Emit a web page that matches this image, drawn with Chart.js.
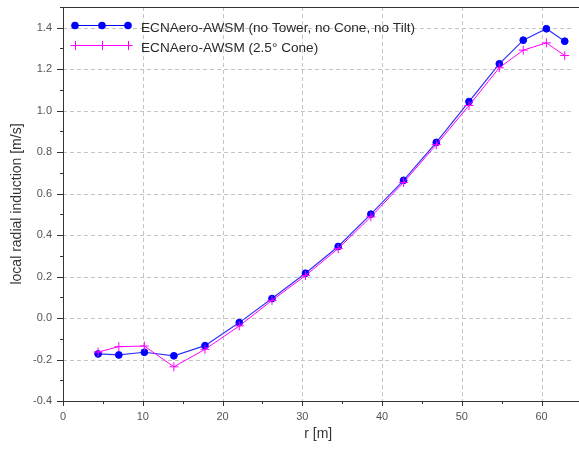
<!DOCTYPE html>
<html>
<head>
<meta charset="utf-8">
<script src="https://cdn.jsdelivr.net/npm/chart.js@4/dist/chart.umd.min.js"></script>
<style>
  html, body { margin: 0; padding: 0; background: #fff; }
  #wrap { width: 579px; height: 449px; position: relative; }
</style>
</head>
<body>
<div id="wrap"><canvas id="induction"></canvas></div>
<script>
// radial stations [m]
const radius = [4.4, 7.0, 10.2, 13.9, 17.8, 22.1, 26.2, 30.4, 34.5, 38.6, 42.7, 46.8, 50.9, 54.7, 57.7, 60.6, 62.9];
// local radial induction [m/s]
const noTower = [-0.173, -0.178, -0.165, -0.182, -0.133, -0.022, 0.094, 0.216, 0.345, 0.501, 0.664, 0.847, 1.044, 1.226, 1.340, 1.395, 1.335];
const cone25 = [-0.164, -0.138, -0.135, -0.235, -0.151, -0.038, 0.085, 0.205, 0.335, 0.488, 0.654, 0.836, 1.025, 1.207, 1.292, 1.327, 1.266];

const seriesNames = ['ECNAero-AWSM (no Tower, no Cone, no Tilt)', 'ECNAero-AWSM (2.5° Cone)'];
const xMajor = [0, 10, 20, 30, 40, 50, 60];
const yMajor = [-0.4, -0.2, 0.0, 0.2, 0.4, 0.6, 0.8, 1.0, 1.2, 1.4];

const BLUE = '#0000ff';
const PINK = '#ff00ff';
const GRID = '#c4c4c4';
const AXIS = '#333333';
const FONT = '"Liberation Sans", Arial, sans-serif';

const isXMajor = v => xMajor.some(m => Math.abs(m - v) < 1e-6);
const isYMajor = v => yMajor.some(m => Math.abs(m - v) < 1e-6);
const fmtY = v => (Math.abs(v) < 1e-6 ? 0 : v).toFixed(1);

// dashed grid behind the lines
const dashedGrid = {
  id: 'dashedGrid',
  beforeDatasetsDraw(chart) {
    const {ctx, chartArea: a, scales: {x, y}} = chart;
    ctx.save();
    ctx.strokeStyle = GRID;
    ctx.lineWidth = 1;
    ctx.setLineDash([4, 3]);
    ctx.beginPath();
    xMajor.slice(1).forEach(v => {
      const px = Math.round(x.getPixelForValue(v)) + 0.5;
      ctx.moveTo(px, a.top);
      ctx.lineTo(px, a.bottom);
    });
    yMajor.slice(1).forEach(v => {
      const py = Math.round(y.getPixelForValue(v)) + 0.5;
      ctx.moveTo(a.left, py);
      ctx.lineTo(a.right, py);
    });
    ctx.stroke();
    ctx.restore();
  }
};

// axis lines, minor/major ticks, top frame, legend
const frame = {
  id: 'frame',
  afterDraw(chart) {
    const {ctx, chartArea: a, scales: {x, y}} = chart;
    ctx.save();
    ctx.strokeStyle = AXIS;
    ctx.lineWidth = 1;
    ctx.beginPath();
    ctx.moveTo(Math.round(a.left) + 0.5, a.top);
    ctx.lineTo(Math.round(a.left) + 0.5, a.bottom);
    ctx.moveTo(a.left, Math.round(a.bottom) + 0.5);
    ctx.lineTo(chart.width, Math.round(a.bottom) + 0.5);
    ctx.moveTo(a.left, Math.round(a.top) + 0.5);
    ctx.lineTo(chart.width, Math.round(a.top) + 0.5);
    x.ticks.forEach(t => {
      const px = Math.round(x.getPixelForValue(t.value)) + 0.5;
      const len = isXMajor(t.value) ? 5 : 3;
      ctx.moveTo(px, a.bottom);
      ctx.lineTo(px, a.bottom + len);
    });
    y.ticks.forEach(t => {
      const py = Math.round(y.getPixelForValue(t.value)) + 0.5;
      const len = isYMajor(t.value) ? 6 : 3;
      ctx.moveTo(a.left - len, py);
      ctx.lineTo(a.left, py);
    });
    ctx.stroke();

    // legend
    const lx = [75, 102, 128];
    const rows = [
      {y: 25, color: BLUE, mark: 'circle'},
      {y: 45, color: PINK, mark: 'cross'}
    ];
    rows.forEach((r, i) => {
      ctx.strokeStyle = r.color;
      ctx.fillStyle = r.color;
      ctx.beginPath();
      ctx.moveTo(73, r.y + 0.5);
      ctx.lineTo(130, r.y + 0.5);
      ctx.stroke();
      lx.forEach(px => {
        ctx.beginPath();
        if (r.mark === 'circle') {
          ctx.arc(px, r.y + 0.5, 3.8, 0, Math.PI * 2);
          ctx.fill();
        } else {
          ctx.moveTo(px - 4.5, r.y + 0.5);
          ctx.lineTo(px + 4.5, r.y + 0.5);
          ctx.moveTo(px + 0.5, r.y - 4);
          ctx.lineTo(px + 0.5, r.y + 5);
          ctx.stroke();
        }
      });
      ctx.fillStyle = '#2a2a2a';
      ctx.font = '13.6px ' + FONT;
      ctx.textBaseline = 'middle';
      ctx.fillText(seriesNames[i], 141, r.y + 3);
    });
    ctx.restore();
  }
};

new Chart(document.getElementById('induction'), {
  type: 'line',
  data: {
    datasets: [{
      label: seriesNames[1],
      data: radius.map((r, i) => ({x: r, y: cone25[i]})),
      borderColor: PINK,
      backgroundColor: PINK,
      borderWidth: 1,
      pointStyle: 'cross',
      pointRadius: 4.5,
      pointBorderWidth: 1,
      pointBorderColor: PINK,
      tension: 0,
      order: 1
    }, {
      label: seriesNames[0],
      data: radius.map((r, i) => ({x: r, y: noTower[i]})),
      borderColor: 'rgb(50,50,255)',
      backgroundColor: BLUE,
      borderWidth: 1.2,
      pointStyle: 'circle',
      pointRadius: 3.4,
      pointBorderWidth: 1,
      pointBackgroundColor: BLUE,
      pointBorderColor: BLUE,
      tension: 0,
      order: 2
    }]
  },
  options: {
    responsive: true,
    maintainAspectRatio: false,
    animation: false,
    layout: { padding: { top: 7, right: 0, bottom: 0, left: 0 } },
    plugins: {
      legend: { display: false },
      tooltip: { enabled: false }
    },
    scales: {
      x: {
        type: 'linear',
        min: 0,
        max: 64,
        afterFit: s => { s.height = 48; s.paddingLeft = 0; s.paddingRight = 0; },
        ticks: {
          stepSize: 5,
          autoSkip: false,
          includeBounds: false,
          padding: 9,
          color: '#555',
          font: { family: FONT, size: 11 },
          callback: v => isXMajor(v) ? String(v) : ''
        },
        grid: { display: false, drawTicks: false },
        border: { display: false },
        title: {
          display: true,
          text: 'r [m]',
          color: '#333',
          font: { family: FONT, size: 14 },
          padding: { top: 0, bottom: 6 }
        }
      },
      y: {
        type: 'linear',
        min: -0.4,
        max: 1.5,
        afterFit: s => { s.width = 63; s.paddingTop = 0; s.paddingBottom = 0; },
        ticks: {
          stepSize: 0.1,
          autoSkip: false,
          includeBounds: false,
          padding: 11,
          color: '#555',
          font: { family: FONT, size: 11 },
          callback: v => isYMajor(v) ? fmtY(v) : ''
        },
        grid: { display: false, drawTicks: false },
        border: { display: false },
        title: {
          display: true,
          text: 'local radial induction [m/s]',
          color: '#333',
          font: { family: FONT, size: 14 },
          padding: { top: 9, bottom: 0 }
        }
      }
    }
  },
  plugins: [dashedGrid, frame]
});
</script>
</body>
</html>
